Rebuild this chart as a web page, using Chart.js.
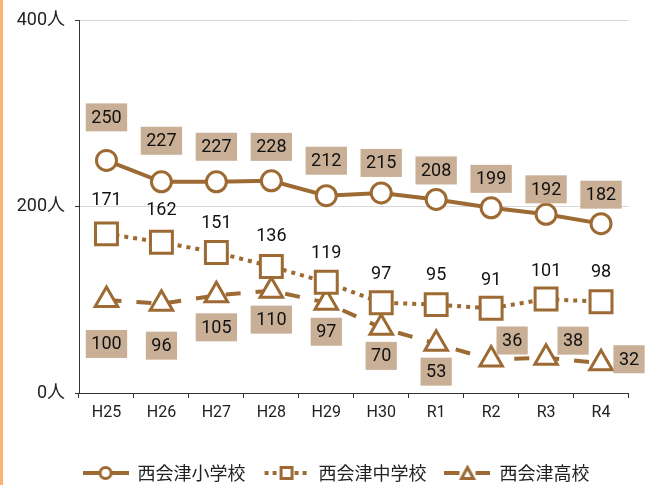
<!DOCTYPE html>
<html>
<head>
<meta charset="utf-8">
<script src="https://cdn.jsdelivr.net/npm/chart.js@4.4.0/dist/chart.umd.min.js"></script>
<style>
html, body { margin: 0; padding: 0; background: #fff; }
#wrap { position: absolute; left: 0; top: 0; width: 644px; height: 485px; border-left: 3px solid #f9b36e; }
</style>
</head>
<body>
<div id="wrap"><canvas id="chart" width="644" height="485"></canvas></div>
<script>
const years = ['H25', 'H26', 'H27', 'H28', 'H29', 'H30', 'R1', 'R2', 'R3', 'R4'];
const elementary = [250, 227, 227, 228, 212, 215, 208, 199, 192, 182];
const juniorHigh = [171, 162, 151, 136, 119, 97, 95, 91, 101, 98];
const highSchool = [100, 96, 105, 110, 97, 70, 53, 36, 38, 32];
const seriesNames = ['西会津小学校', '西会津中学校', '西会津高校'];
const yTicks = [0, 200, 400];

const brown = '#9c6a32';
const tan = '#c9af95';

// where each value label sits relative to its point (style only)
const labelOffsets = [
  [[0, -43], [0, -41], [0, -35], [0, -34], [0, -35], [0, -30], [0, -29], [0, -29], [0, -25], [0, -29]],
  [[0, -34], [0, -33], [0, -30], [0, -31], [0, -30], [0, -29], [0, -30], [0, -29], [0, -29], [0, -30]],
  [[0, 44], [0, 42], [0, 32], [0, 29], [0, 29], [0, 28], [0, 28], [21, -19], [27, -17], [28, -4]]
];
const labelBoxed = [true, false, true];

// small line+marker pictures for the legend
function legendIcon(kind) {
  const c = document.createElement('canvas');
  c.width = 46; c.height = 16;
  const g = c.getContext('2d');
  g.strokeStyle = brown;
  g.lineWidth = 4;
  g.beginPath();
  if (kind === 'circle') {
    g.moveTo(0, 8); g.lineTo(46, 8);
  } else if (kind === 'rect') {
    g.setLineDash([4, 4]);
    g.moveTo(1, 8); g.lineTo(16, 8);
    g.moveTo(31, 8); g.lineTo(46, 8);
  } else {
    g.moveTo(0, 8); g.lineTo(15, 8);
    g.moveTo(31, 8); g.lineTo(46, 8);
  }
  g.stroke();
  g.setLineDash([]);
  g.lineWidth = 3;
  g.fillStyle = '#fff';
  g.beginPath();
  if (kind === 'circle') {
    g.arc(23, 8, 5.5, 0, Math.PI * 2);
  } else if (kind === 'rect') {
    g.rect(17.5, 2.5, 11, 11);
  } else {
    g.moveTo(23, 2.5); g.lineTo(29, 13.5); g.lineTo(17, 13.5); g.closePath();
  }
  g.fill();
  g.stroke();
  return c;
}
const legendIcons = [legendIcon('circle'), legendIcon('rect'), legendIcon('triangle')];

const valueLabels = {
  id: 'valueLabels',
  afterDatasetsDraw(chart) {
    const ctx = chart.ctx;
    ctx.save();
    ctx.font = '18px Roboto';
    ctx.textAlign = 'center';
    ctx.textBaseline = 'middle';
    chart.data.datasets.forEach((ds, i) => {
      chart.getDatasetMeta(i).data.forEach((pt, j) => {
        const off = labelOffsets[i][j];
        const txt = String(ds.data[j]);
        const x = pt.x + off[0];
        const y = pt.y + off[1];
        if (labelBoxed[i]) {
          const w = ctx.measureText(txt).width + 11;
          ctx.fillStyle = tan;
          ctx.fillRect(x - w / 2, y - 14, w, 28);
        }
        ctx.fillStyle = '#111';
        ctx.fillText(txt, x, y + 1);
      });
    });
    ctx.restore();
  }
};

// nudge the legend right and down, like in the source picture
const legendShift = {
  id: 'legendShift',
  afterLayout(chart) {
    const lg = chart.legend;
    lg.left += 20;
    lg.right += 20;
    lg.top += 7;
    lg.bottom += 7;
  }
};

new Chart(document.getElementById('chart'), {
  type: 'line',
  data: {
    labels: years,
    datasets: [
      {
        label: seriesNames[0],
        data: elementary,
        borderColor: brown,
        borderWidth: 4,
        pointStyle: 'circle',
        pointRadius: 10,
        pointBorderWidth: 3,
        pointBackgroundColor: '#fff',
        pointBorderColor: brown
      },
      {
        label: seriesNames[1],
        data: juniorHigh,
        borderColor: brown,
        borderWidth: 4,
        borderDash: [4, 5],
        pointStyle: 'rect',
        pointRadius: 15.5,
        pointBorderWidth: 3,
        pointBackgroundColor: '#fff',
        pointBorderColor: brown
      },
      {
        label: seriesNames[2],
        data: highSchool,
        borderColor: brown,
        borderWidth: 4,
        borderDash: [15, 15],
        pointStyle: 'triangle',
        pointRadius: 13,
        pointBorderWidth: 3,
        pointBackgroundColor: '#fff',
        pointBorderColor: brown
      }
    ]
  },
  options: {
    responsive: false,
    animation: false,
    layout: {
      padding: { left: 0, right: 18, top: 19, bottom: 0 }
    },
    scales: {
      x: {
        offset: true,
        grid: {
          offset: true,
          drawOnChartArea: false,
          drawTicks: true,
          tickLength: 5,
          tickColor: '#333'
        },
        border: { color: '#333', width: 1 },
        ticks: {
          padding: 5,
          color: '#222',
          font: { family: 'Roboto', size: 16 }
        },
        afterFit: (s) => { s.height = 46; }
      },
      y: {
        min: 0,
        max: 400,
        afterBuildTicks: (s) => { s.ticks = yTicks.map(v => ({ value: v })); },
        grid: {
          color: '#d9d9d9',
          lineWidth: 1,
          drawTicks: true,
          tickLength: 4,
          tickColor: '#333'
        },
        border: { color: '#333', width: 1 },
        ticks: {
          padding: 10,
          color: '#222',
          font: { family: "Roboto, 'Noto Sans CJK JP'", size: 18 },
          callback: (v) => v + '人'
        },
        afterFit: (s) => { s.width = 76; }
      }
    },
    plugins: {
      legend: {
        position: 'bottom',
        labels: {
          usePointStyle: true,
          pointStyleWidth: 46,
          padding: 18,
          color: '#222',
          font: { family: "'Noto Sans CJK JP'", size: 18 },
          generateLabels: (chart) => chart.data.datasets.map((ds, i) => ({
            text: ds.label,
            pointStyle: legendIcons[i],
            fillStyle: '#fff',
            strokeStyle: brown,
            lineWidth: 0,
            fontColor: '#222',
            datasetIndex: i
          }))
        }
      },
      tooltip: { enabled: false }
    }
  },
  plugins: [valueLabels, legendShift]
});
</script>
</body>
</html>
